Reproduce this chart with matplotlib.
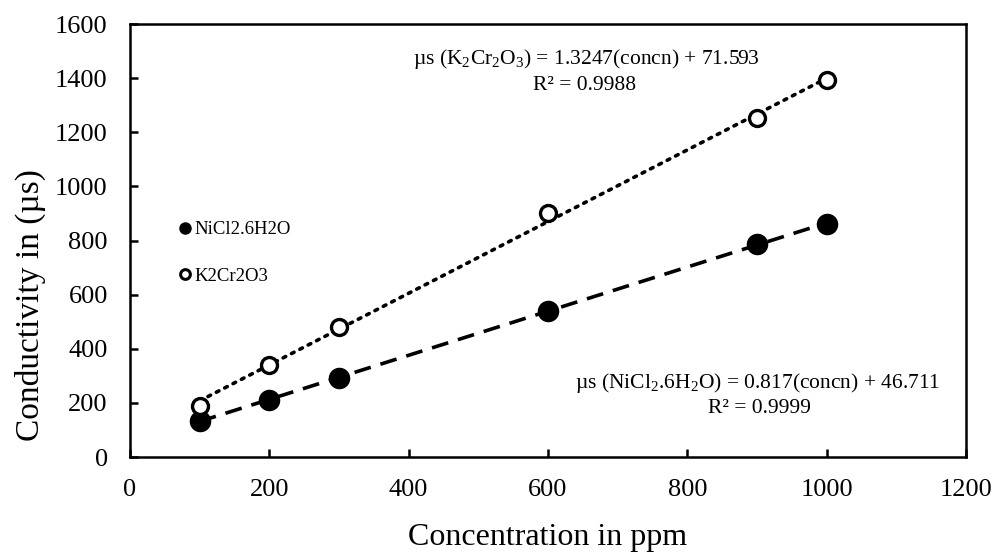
import numpy as np
import matplotlib
matplotlib.use("Agg")
import matplotlib.pyplot as plt
from matplotlib.lines import Line2D

plt.rcParams['font.family'] = ['Liberation Serif', 'DejaVu Serif']
plt.rcParams['mathtext.fontset'] = 'custom'
plt.rcParams['mathtext.rm'] = 'Liberation Serif'
plt.rcParams['mathtext.it'] = 'Liberation Serif:italic'

conc = [100, 200, 300, 600, 900, 1000]
nicl2 = [135, 210, 292, 541, 787, 862]
k2cr2o3 = [190, 340, 481, 900, 1252, 1395]

xticks = [0, 200, 400, 600, 800, 1000, 1200]
yticks = [0, 200, 400, 600, 800, 1000, 1200, 1400, 1600]

fig = plt.figure(figsize=(9.96, 5.54), dpi=100)
ax = fig.add_axes([0.1305, 0.175, 0.8394, 0.7816])

x = np.array(conc, dtype=float)
xfit = np.array([min(conc), max(conc)], dtype=float)
pk = np.polyfit(x, k2cr2o3, 1)
pn = np.polyfit(x, nicl2, 1)

ax.plot(xfit, np.polyval(pk, xfit), color='black', linestyle=(0, (0.8, 1.8)),
        lw=2.6, dash_capstyle='round', zorder=2)
ax.plot(xfit, np.polyval(pn, xfit), color='black', linestyle=(0, (4.7, 2.8)),
        lw=2.6, zorder=2)

ax.plot(conc, nicl2, 'o', color='black', markersize=14.5, zorder=3)
ax.plot(conc, k2cr2o3, 'o', markerfacecolor='white', markeredgecolor='black',
        markeredgewidth=2.4, markersize=11.5, zorder=3)

ax.set_xlim(0, 1200)
ax.set_ylim(0, 1600)
ax.set_xticks(xticks)
ax.set_yticks(yticks)
ax.tick_params(direction='in', length=6, width=1.8, labelsize=19, pad=16)
for s in ['left', 'bottom', 'top', 'right']:
    ax.spines[s].set_linewidth(1.8)

ax.set_xlabel('Concentration in ppm', fontsize=23, labelpad=16)
ax.set_ylabel('Conductivity in (µs)', fontsize=24)
ax.yaxis.set_label_coords(-0.1, 0.35)

handles = [
    Line2D([], [], marker='o', color='black', linestyle='none', markersize=8),
    Line2D([], [], marker='o', markerfacecolor='white', markeredgecolor='black',
           markeredgewidth=2.2, linestyle='none', markersize=7),
]
ax.legend(handles, ['NiCl2.6H2O', 'K2Cr2O3'], loc='upper left',
          bbox_to_anchor=(0.037, 0.575), frameon=False, fontsize=13.5,
          handletextpad=-0.1, labelspacing=1.55, handlelength=1.2, borderpad=0.2)

fs_eq = 15.5
ax.text(655, 1470, r'µs (K$_2$Cr$_2$O$_3$) = 1.3247(concn) + 71.593',
        fontsize=fs_eq, ha='center', va='center')
ax.text(653, 1374, 'R² = 0.9988', fontsize=fs_eq, ha='center', va='center')
ax.text(901, 274, r'µs (NiCl$_2$.6H$_2$O) = 0.817(concn) + 46.711',
        fontsize=fs_eq, ha='center', va='center')
ax.text(904, 181, 'R² = 0.9999', fontsize=fs_eq, ha='center', va='center')

fig.savefig('out.png', dpi=100)
